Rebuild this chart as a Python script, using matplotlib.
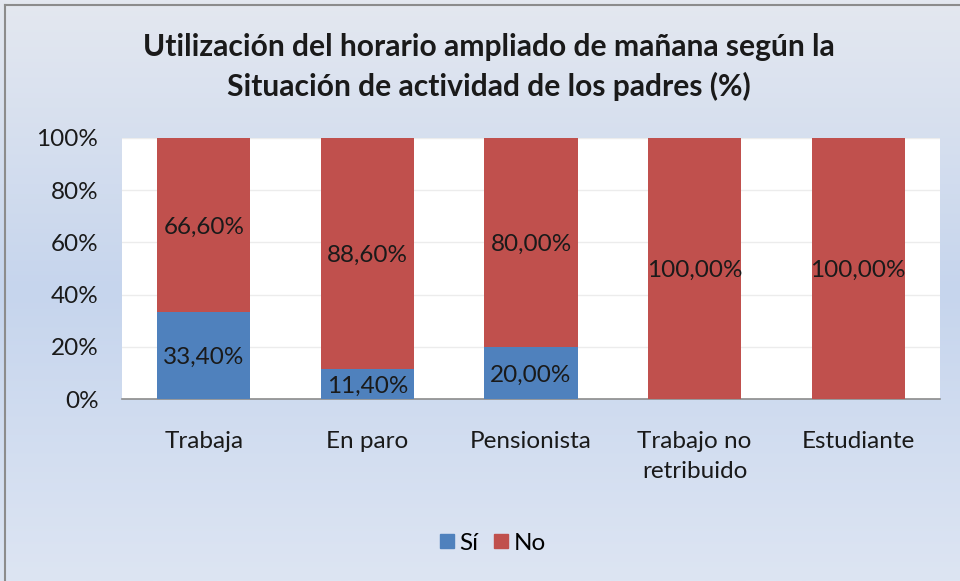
import numpy as np
import matplotlib
matplotlib.use('Agg')
import matplotlib.pyplot as plt
from matplotlib.colors import LinearSegmentedColormap
from matplotlib.lines import Line2D

# Data
categories = ['Trabaja', 'En paro', 'Pensionista', 'Trabajo no\nretribuido', 'Estudiante']
si_values = [33.4, 11.4, 20.0, 0.0, 0.0]
no_values = [66.6, 88.6, 80.0, 100.0, 100.0]
title = 'Utilización del horario ampliado de mañana según la\nSituación de actividad de los padres (%)'

BLUE = '#4F81BD'
RED = '#C0504D'
TXT = '#1a1a1a'

plt.rcParams['font.family'] = ['Lato', 'DejaVu Sans']


def fmt(v):
    return f'{v:.2f}'.replace('.', ',') + '%'


def main():
    fig = plt.figure(figsize=(9.6, 5.81), dpi=100)

    # background gradient
    bg = fig.add_axes([0, 0, 1, 1], zorder=-10)
    cmap = LinearSegmentedColormap.from_list('bg', [
        (0.0, '#e4e8f0'), (0.5, '#c6d5ed'), (1.0, '#dde5f3')])
    grad = np.linspace(0, 1, 256).reshape(-1, 1)
    bg.imshow(grad, aspect='auto', cmap=cmap, extent=[0, 1, 0, 1])
    bg.plot([5 / 960, 5 / 960], [0, 1 - 5 / 581], color='#8c8c8c', lw=1.5)
    bg.plot([5 / 960, 1], [1 - 5 / 581, 1 - 5 / 581], color='#8c8c8c', lw=1.5)
    bg.set_xlim(0, 1)
    bg.set_ylim(0, 1)
    bg.axis('off')

    ax = fig.add_axes([122 / 960, 1 - 399 / 581, 818 / 960, 261 / 581])
    ax.set_facecolor('white')
    x = np.arange(len(categories))
    width = 0.57
    ax.bar(x, si_values, width, color=BLUE, label='Sí', zorder=3)
    ax.bar(x, no_values, width, bottom=si_values, color=RED, label='No', zorder=3)

    for i in range(len(categories)):
        if si_values[i] > 0:
            ax.text(x[i], si_values[i] / 2, fmt(si_values[i]), ha='center',
                    va='center_baseline', fontsize=17.5, color=TXT, zorder=4)
        if no_values[i] > 0:
            ax.text(x[i], si_values[i] + no_values[i] / 2, fmt(no_values[i]), ha='center',
                    va='center_baseline', fontsize=17.5, color=TXT, zorder=4)

    ax.set_xlim(-0.5, len(categories) - 0.5)
    ax.set_ylim(0, 100)
    ax.set_yticks(np.arange(0, 101, 20))
    ax.set_yticklabels([f'{v}%' for v in range(0, 101, 20)], fontsize=17.5, color=TXT)
    ax.set_xticks(x)
    ax.set_xticklabels(categories, fontsize=17.5, color=TXT, linespacing=1.55)
    ax.tick_params(axis='both', length=0)
    ax.tick_params(axis='x', pad=23)
    ax.tick_params(axis='y', pad=17)
    ax.grid(True, axis='y', color='#ececec', lw=1, zorder=0)
    for s in ['left', 'right', 'top']:
        ax.spines[s].set_visible(False)
    ax.spines['bottom'].set_color('#8c8c8c')
    ax.spines['bottom'].set_linewidth(1.2)

    fig.text(489 / 960, 1 - 67 / 581, title, ha='center', va='center',
             fontsize=21.6, fontweight='bold', color=TXT, linespacing=1.45)

    handles = [Line2D([], [], marker='s', ls='', color=BLUE, markersize=10),
               Line2D([], [], marker='s', ls='', color=RED, markersize=10)]
    fig.legend(handles, ['Sí', 'No'], loc='center', bbox_to_anchor=(492 / 960, 1 - 543 / 581),
               ncol=2, frameon=False, fontsize=17.5, handletextpad=0.15,
               columnspacing=0.6, handlelength=0.7)

    fig.savefig('out.png', dpi=100)
    plt.close(fig)


if __name__ == "__main__":
    main()
